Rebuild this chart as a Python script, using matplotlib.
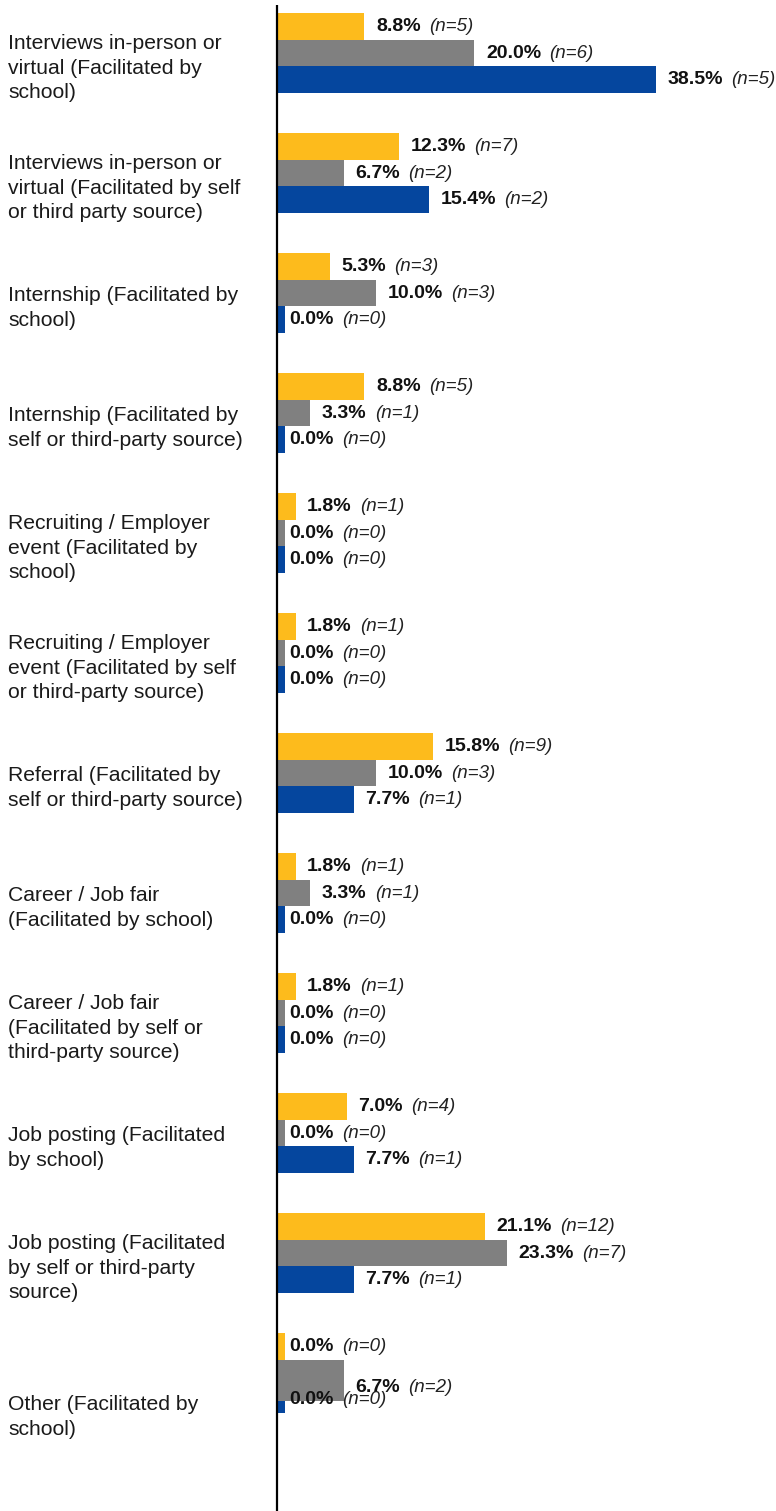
import numpy as np
import matplotlib
matplotlib.use("Agg")
import matplotlib.pyplot as plt

categories = [
    "Interviews in-person or\nvirtual (Facilitated by\nschool)",
    "Interviews in-person or\nvirtual (Facilitated by self\nor third party source)",
    "Internship (Facilitated by\nschool)",
    "Internship (Facilitated by\nself or third-party source)",
    "Recruiting / Employer\nevent (Facilitated by\nschool)",
    "Recruiting / Employer\nevent (Facilitated by self\nor third-party source)",
    "Referral (Facilitated by\nself or third-party source)",
    "Career / Job fair\n(Facilitated by school)",
    "Career / Job fair\n(Facilitated by self or\nthird-party source)",
    "Job posting (Facilitated\nby school)",
    "Job posting (Facilitated\nby self or third-party\nsource)",
    "Other (Facilitated by\nschool)",
]
yellow_pct = [8.8, 12.3, 5.3, 8.8, 1.8, 1.8, 15.8, 1.8, 1.8, 7.0, 21.1, 0.0]
yellow_n = [5, 7, 3, 5, 1, 1, 9, 1, 1, 4, 12, 0]
gray_pct = [20.0, 6.7, 10.0, 3.3, 0.0, 0.0, 10.0, 3.3, 0.0, 0.0, 23.3, 6.7]
gray_n = [6, 2, 3, 1, 0, 0, 3, 1, 0, 0, 7, 2]
blue_pct = [38.5, 15.4, 0.0, 0.0, 0.0, 0.0, 7.7, 0.0, 0.0, 7.7, 7.7, 0.0]
blue_n = [5, 2, 0, 0, 0, 0, 1, 0, 0, 1, 1, 0]

colors = ["#FDBB1C", "#808080", "#05469E"]
series = [(yellow_pct, yellow_n), (gray_pct, gray_n), (blue_pct, blue_n)]

W, H = 776, 1511
PX = 9.82           # pixels per percent
X0 = 278            # pixel of 0%
fig = plt.figure(figsize=(W / 100, H / 100), dpi=100)
ax = fig.add_axes([0, 0, 1, 1])
ax.set_xlim(-X0 / PX, (W - X0) / PX)
ax.set_ylim(H, 0)
ax.axis("off")

FONT = "Liberation Sans"
stub = 0.72
gap = 11.5 / PX
slot = 120
bh = 26.7

for i, cat in enumerate(categories):
    top = 13 + slot * i
    last = i == len(categories) - 1
    for j, (vals, ns) in enumerate(series):
        v = vals[i]
        y0 = top + bh * j
        h = bh
        ly = y0 + h / 2
        if last and j == 1:
            h = 41
            ly = 1387
        ax.barh(y0, max(v, stub), height=h, align="edge", color=colors[j],
                edgecolor="none", zorder=3 if (last and j == 1) else 2)
        t = ax.text(v + gap, ly, f"{v:.1f}%", fontsize=14, fontweight="bold",
                    family=FONT, va="center", ha="left", color="#111111", zorder=5)
        ax.annotate(f"(n={ns[i]})", xy=(1, 0.5), xycoords=t, xytext=(6, 0),
                    textcoords="offset points", fontsize=13.5, fontstyle="italic",
                    family=FONT, va="center", ha="left", color="#222222", zorder=5)
    cy = top + 40 + 15
    if last:
        cy = 1417
    ax.text(8 / PX - X0 / PX, cy, cat, fontsize=15.2, family=FONT, va="center",
            ha="left", color="#1a1a1a", linespacing=1.39)

ax.plot([-0.12, -0.12], [5, H], color="black", lw=1.6, zorder=6, solid_capstyle="butt")

fig.savefig("out.png", dpi=100)
